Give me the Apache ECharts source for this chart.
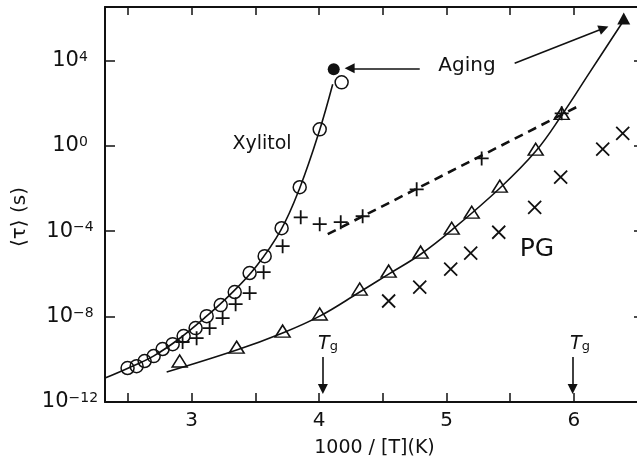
<!DOCTYPE html>
<html>
<head>
<meta charset="utf-8">
<script src="https://cdn.jsdelivr.net/npm/echarts@6/dist/echarts.min.js"></script>
<style>
  html, body { margin: 0; padding: 0; background: #fff; }
  #chart { width: 637px; height: 469px; }
</style>
</head>
<body>
<div id="chart"></div>
<script>
// x = 1000/T (1/K), y = log10 <tau> (s)
const xylitolX = [2.497, 2.568, 2.631, 2.702, 2.772, 2.851, 2.937, 3.031, 3.118, 3.228, 3.338, 3.455, 3.573, 3.706, 3.848, 4.005, 4.177];
const xylitolY = [-10.41, -10.32, -10.08, -9.85, -9.52, -9.29, -8.91, -8.54, -7.98, -7.46, -6.85, -5.96, -5.17, -3.86, -1.94, 0.77, 2.97];
const xylitolAgedX = [4.115];
const xylitolAgedY = [3.58];

const xylitolFitX = [2.32, 2.50, 2.70, 2.90, 3.10, 3.30, 3.50, 3.70, 3.85, 4.00, 4.107];
const xylitolFitY = [-10.88, -10.42, -9.85, -9.05, -8.07, -6.98, -5.70, -3.95, -1.95, 0.65, 2.88];

const plusX = [2.929, 3.039, 3.141, 3.243, 3.345, 3.455, 3.565, 3.714, 3.856, 4.005, 4.170, 4.342, 4.766, 5.276, 5.904];
const plusY = [-9.19, -9.01, -8.54, -8.07, -7.42, -6.90, -5.92, -4.70, -3.35, -3.67, -3.58, -3.30, -2.04, -0.59, 1.52];
const plusFitX = [4.068, 6.046];
const plusFitY = [-4.14, 1.89];

const pgTriX = [2.906, 3.353, 3.714, 4.005, 4.319, 4.546, 4.797, 5.041, 5.198, 5.418, 5.700, 5.904];
const pgTriY = [-10.08, -9.43, -8.68, -7.88, -6.71, -5.87, -4.98, -3.86, -3.11, -1.89, -0.16, 1.52];
const pgAgedX = [6.391];
const pgAgedY = [5.96];

const pgFitX = [2.804, 3.353, 3.714, 4.005, 4.319, 4.546, 4.797, 5.041, 5.418, 5.700, 5.904, 6.124, 6.375];
const pgFitY = [-10.60, -9.57, -8.77, -7.98, -6.85, -6.01, -5.08, -3.95, -1.99, -0.26, 1.43, 3.44, 5.73];

const pgCrossX = [4.546, 4.790, 5.033, 5.190, 5.410, 5.692, 5.896, 6.226, 6.383];
const pgCrossY = [-7.27, -6.62, -5.78, -5.03, -4.05, -2.88, -1.47, -0.16, 0.58];

const tgValues = [4.03, 5.99];
const yTicks = [-12, -8, -4, 0, 4];

const zip = (xs, ys) => xs.map((x, i) => [x, ys[i]]);
const FONT = "DejaVu Sans";
const INK = "#111";

let chart = echarts.init(document.getElementById("chart"));

const open = { color: "transparent", borderColor: INK, borderWidth: 1.5, opacity: 1 };
const plusPath = "path://M0,5L10,5M5,0L5,10";
const crossPath = "path://M0,0L10,10M10,0L0,10";

function supLabel(v) {
  if (yTicks.indexOf(v) < 0) return "";
  let e = v < 0 ? "\u2212" + (-v) : String(v);
  return "{b|10}{s|" + e + "}";
}

const tgText = {
  text: "{t|T}{g|g}", align: "center", verticalAlign: "middle",
  rich: {
    t: { fontFamily: FONT, fontStyle: "italic", fontSize: 19, fill: INK },
    g: { fontFamily: FONT, fontSize: 13, fill: INK, verticalAlign: "bottom" }
  }
};

let option = {
  animation: false,
  backgroundColor: "#fff",
  grid: { left: 105, top: 7, width: 539, height: 395, outerBoundsMode: "none", containLabel: false },
  xAxis: [
    {
      type: "value",
      min: 2.32,
      max: 6.55,
      splitNumber: 8,
      name: "1000 / [T](K)",
      nameLocation: "middle",
      nameGap: 37,
      nameTextStyle: { fontFamily: FONT, fontSize: 19, color: INK },
      axisLine: { onZero: false, lineStyle: { color: INK, width: 2 } },
      axisTick: { inside: true, length: 9, lineStyle: { color: INK, width: 1.5 } },
      axisLabel: {
        margin: 9,
        fontFamily: FONT,
        fontSize: 20,
        color: INK,
        formatter: v => (Math.abs(v - Math.round(v)) < 1e-6 ? String(Math.round(v)) : "")
      },
      splitLine: { show: false }
    },
    {
      type: "value",
      position: "top",
      min: 2.32,
      max: 6.55,
      splitNumber: 8,
      axisLine: { onZero: false, lineStyle: { color: INK, width: 2 } },
      axisTick: { inside: true, length: 8, lineStyle: { color: INK, width: 1.5 } },
      axisLabel: { show: false },
      splitLine: { show: false }
    }
  ],
  yAxis: [
    {
      type: "value",
      min: -12,
      max: 6.5,
      interval: 4,
      axisLine: { onZero: false, lineStyle: { color: INK, width: 2 } },
      axisTick: { inside: true, length: 10, lineStyle: { color: INK, width: 1.5 } },
      axisLabel: {
        margin: 35,
        align: "center",
        formatter: supLabel,
        rich: {
          b: { fontFamily: FONT, fontSize: 21, color: INK },
          s: { fontFamily: FONT, fontSize: 14, color: INK, verticalAlign: "top" }
        }
      },
      splitLine: { show: false }
    },
    {
      type: "value",
      position: "right",
      min: -12,
      max: 6.5,
      interval: 4,
      axisLine: { onZero: false, lineStyle: { color: INK, width: 2 } },
      axisTick: { inside: true, length: 10, lineStyle: { color: INK, width: 1.5 } },
      axisLabel: { show: false },
      splitLine: { show: false }
    }
  ],
  series: [
    {
      name: "Xylitol fit",
      type: "line",
      smooth: 0.4,
      symbol: "none",
      lineStyle: { color: INK, width: 1.6 },
      data: zip(xylitolFitX, xylitolFitY),
      z: 1
    },
    {
      name: "PG fit",
      type: "line",
      smooth: 0.4,
      symbol: "none",
      lineStyle: { color: INK, width: 1.6 },
      data: zip(pgFitX, pgFitY),
      z: 1
    },
    {
      name: "plus fit",
      type: "line",
      symbol: "none",
      lineStyle: { color: INK, width: 2.6, type: [9, 6] },
      data: zip(plusFitX, plusFitY),
      z: 1
    },
    {
      name: "Xylitol",
      type: "scatter",
      symbol: "circle",
      symbolSize: 13,
      itemStyle: open,
      data: zip(xylitolX, xylitolY),
      markLine: {
        silent: true,
        symbol: ["none", "triangle"],
        symbolSize: 10,
        label: { show: false },
        lineStyle: { color: INK, width: 1.6, type: "solid", opacity: 1 },
        itemStyle: { color: INK },
        data: [
          [{ coord: [4.79, 3.63] }, { coord: [4.24, 3.63] }],
          [{ coord: [5.535, 3.86] }, { coord: [6.234, 5.5] }],
          [{ coord: [tgValues[0], -9.89] }, { coord: [tgValues[0], -11.39] }],
          [{ coord: [tgValues[1], -9.89] }, { coord: [tgValues[1], -11.39] }]
        ]
      }
    },
    {
      name: "Xylitol aged",
      type: "scatter",
      symbol: "circle",
      symbolSize: 12,
      itemStyle: { color: INK, opacity: 1 },
      data: zip(xylitolAgedX, xylitolAgedY)
    },
    {
      name: "plus",
      type: "scatter",
      symbol: plusPath,
      symbolSize: 14,
      itemStyle: { color: "transparent", borderColor: INK, borderWidth: 1.8, opacity: 1 },
      data: zip(plusX, plusY)
    },
    {
      name: "PG",
      type: "scatter",
      symbol: "triangle",
      symbolSize: [15, 12],
      itemStyle: open,
      data: zip(pgTriX, pgTriY)
    },
    {
      name: "PG aged",
      type: "scatter",
      symbol: "triangle",
      symbolSize: [13, 12],
      itemStyle: { color: INK, opacity: 1 },
      data: zip(pgAgedX, pgAgedY)
    },
    {
      name: "PG cross",
      type: "scatter",
      symbol: crossPath,
      symbolSize: 13,
      itemStyle: { color: "transparent", borderColor: INK, borderWidth: 1.8, opacity: 1 },
      data: zip(pgCrossX, pgCrossY)
    }
  ],
  graphic: [
    {
      type: "text",
      x: 20, y: 217, rotation: Math.PI / 2,
      style: { text: "\u27E8\u03C4\u27E9 (s)", font: "20px " + FONT, fill: INK, align: "center", verticalAlign: "middle" }
    },
    {
      type: "text",
      x: 262, y: 144,
      style: { text: "Xylitol", font: "19px " + FONT, fill: INK, align: "center", verticalAlign: "middle" }
    },
    {
      type: "text",
      x: 467, y: 66,
      style: { text: "Aging", font: "20px " + FONT, fill: INK, align: "center", verticalAlign: "middle" }
    },
    {
      type: "text",
      x: 537, y: 249,
      style: { text: "PG", font: "25px " + FONT, fill: INK, align: "center", verticalAlign: "middle" }
    },
    { type: "text", x: 328, y: 344, style: tgText },
    { type: "text", x: 580, y: 344, style: tgText }
  ]
};

chart.setOption(option, true);
</script>
</body>
</html>
